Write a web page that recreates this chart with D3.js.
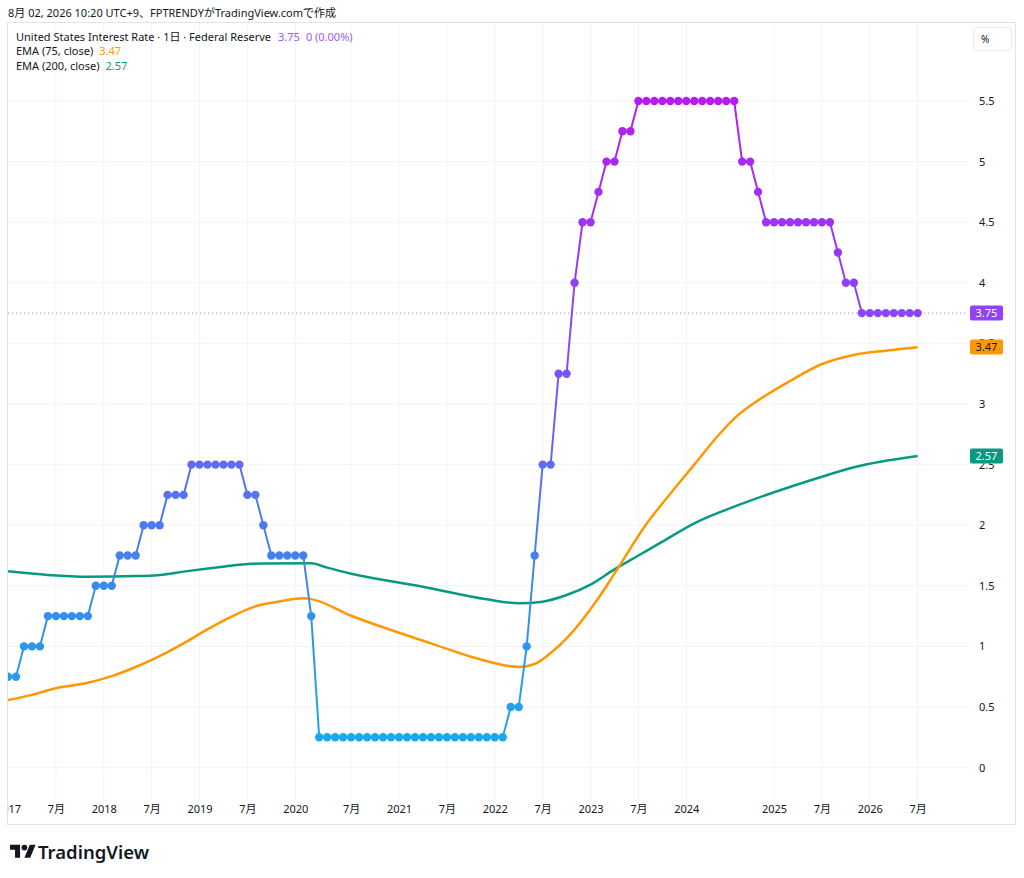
<!DOCTYPE html>
<html>
<head>
<meta charset="utf-8">
<script src="https://cdn.jsdelivr.net/npm/d3@7"></script>
<style>
	body { margin: 0; background: #fff; }
	text { font-family: 'Noto Sans', 'Noto Sans CJK JP', sans-serif; }
</style>
</head>
<body>
<div class="canvas"></div>
<script>
// rate, one value per bar
const rates = [
	0.75, 0.75,
	1, 1, 1,
	1.25, 1.25, 1.25, 1.25, 1.25, 1.25,
	1.5, 1.5, 1.5,
	1.75, 1.75, 1.75,
	2, 2, 2,
	2.25, 2.25, 2.25,
	2.5, 2.5, 2.5, 2.5, 2.5, 2.5, 2.5,
	2.25, 2.25,
	2,
	1.75, 1.75, 1.75, 1.75, 1.75,
	1.25,
	0.25, 0.25, 0.25, 0.25, 0.25, 0.25, 0.25, 0.25, 0.25, 0.25, 0.25, 0.25,
	0.25, 0.25, 0.25, 0.25, 0.25, 0.25, 0.25, 0.25, 0.25, 0.25, 0.25, 0.25,
	0.5, 0.5,
	1,
	1.75,
	2.5, 2.5,
	3.25, 3.25,
	4,
	4.5, 4.5,
	4.75,
	5, 5,
	5.25, 5.25,
	5.5, 5.5, 5.5, 5.5, 5.5, 5.5, 5.5, 5.5, 5.5, 5.5, 5.5, 5.5, 5.5,
	5, 5,
	4.75,
	4.5, 4.5, 4.5, 4.5, 4.5, 4.5, 4.5, 4.5, 4.5,
	4.25,
	4, 4,
	3.75, 3.75, 3.75, 3.75, 3.75, 3.75, 3.75, 3.75
];

// EMA readings (bar index, value)
const ema75Bars = [0, 3, 6, 10, 13, 16, 19, 22, 25, 28, 31, 34, 37, 38, 43, 48, 53, 58, 62, 64, 66, 68, 70, 74, 76, 80, 83, 86, 89, 91, 94, 98, 102, 106, 110, 114];
const ema75 = [0.557, 0.6, 0.655, 0.7, 0.755, 0.83, 0.92, 1.025, 1.14, 1.245, 1.33, 1.37, 1.397, 1.39, 1.253, 1.135, 1.025, 0.915, 0.847, 0.83, 0.855, 0.945, 1.067, 1.4, 1.6, 2.01, 2.26, 2.5, 2.74, 2.88, 3.03, 3.19, 3.33, 3.405, 3.44, 3.468];
const ema200Bars = [0, 5, 10, 16, 19, 22, 26, 29, 32, 38, 40, 43, 52, 60, 64, 67, 70, 73, 76, 79, 82, 86, 91, 95, 102, 106, 114];
const ema200 = [1.62, 1.59, 1.575, 1.58, 1.59, 1.617, 1.65, 1.674, 1.685, 1.686, 1.65, 1.6, 1.493, 1.389, 1.355, 1.369, 1.424, 1.51, 1.636, 1.75, 1.864, 2.016, 2.153, 2.249, 2.4, 2.478, 2.571];

const timeTickBars = [0, 6, 12, 18, 24, 30, 36, 43, 49, 55, 61, 67, 73, 79, 85, 96, 102, 108, 114];
const timeTickLabels = ['2017', '7月', '2018', '7月', '2019', '7月', '2020', '7月', '2021', '7月', '2022', '7月', '2023', '7月', '2024', '2025', '7月', '2026', '7月'];
const priceTicks = [0, 0.5, 1, 1.5, 2, 2.5, 3, 3.5, 4, 4.5, 5, 5.5];

const lastRate = 3.75, lastEma75 = 3.47, lastEma200 = 2.57;

const width = 1024, height = 878;
const pane = { left: 8, right: 968, top: 23, bottom: 800 };
const textColor = '#131722';
const gridColor = '#f0f3fa';
const orange = '#ff9800', teal = '#089981', purple = '#8e44f2';

const svg = d3.select('.canvas')
	.append('svg')
	.attr('width', width)
	.attr('height', height);

const x = d3.scaleLinear()
	.domain([0, 114])
	.range([8, 917.7]);

const y = d3.scaleLinear()
	.domain([0, 5.5])
	.range([767.6, 101]);

// header
svg.append('text')
	.attr('x', 8)
	.attr('y', 17)
	.attr('font-size', 11)
	.attr('fill', textColor)
	.text('8月 02, 2026 10:20 UTC+9、FPTRENDYがTradingView.comで作成');

svg.append('rect')
	.attr('x', 7.5)
	.attr('y', 22.5)
	.attr('width', 1008)
	.attr('height', 802)
	.attr('fill', 'none')
	.attr('stroke', '#e0e3eb');

const defs = svg.append('defs');
defs.append('clipPath')
	.attr('id', 'pane')
	.append('rect')
	.attr('x', pane.left)
	.attr('y', pane.top)
	.attr('width', pane.right - pane.left)
	.attr('height', pane.bottom - pane.top);

defs.append('clipPath')
	.attr('id', 'timeaxis')
	.append('rect')
	.attr('x', pane.left)
	.attr('y', pane.bottom)
	.attr('width', pane.right - pane.left)
	.attr('height', 24);

const gradStops = [[0.25, '#1aa8ec'], [1.25, '#3290ec'], [2.5, '#5e6cf0'], [3.75, '#8c45f3'], [5.5, '#b51cf2']];
const grad = defs.append('linearGradient')
	.attr('id', 'rateGrad')
	.attr('gradientUnits', 'userSpaceOnUse')
	.attr('x1', 0).attr('x2', 0)
	.attr('y1', y(0)).attr('y2', y(5.5));
grad.selectAll('stop')
	.data(gradStops)
	.enter()
	.append('stop')
	.attr('offset', d => d[0] / 5.5)
	.attr('stop-color', d => d[1]);

// grid
const grid = svg.append('g');
grid.selectAll('line.h')
	.data(priceTicks)
	.enter()
	.append('line')
	.attr('x1', pane.left)
	.attr('x2', pane.right)
	.attr('y1', d => y(d))
	.attr('y2', d => y(d))
	.attr('stroke', gridColor);
grid.selectAll('line.v')
	.data(timeTickBars.slice(1))
	.enter()
	.append('line')
	.attr('x1', d => x(d))
	.attr('x2', d => x(d))
	.attr('y1', pane.top)
	.attr('y2', pane.bottom)
	.attr('stroke', gridColor);

// price axis
const yAxis = d3.axisRight(y)
	.tickValues(priceTicks)
	.tickSize(0)
	.tickPadding(0)
	.tickFormat(d => String(d));
const yAxisGroup = svg.append('g')
	.attr('transform', 'translate(979,0)')
	.call(yAxis);
yAxisGroup.select('.domain').remove();
yAxisGroup.selectAll('text')
	.attr('font-size', 11)
	.attr('fill', textColor);

// time axis
const xAxis = d3.axisBottom(x)
	.tickValues(timeTickBars)
	.tickSize(0)
	.tickPadding(0)
	.tickFormat((d, i) => timeTickLabels[i]);
const xAxisGroup = svg.append('g')
	.attr('clip-path', 'url(#timeaxis)')
	.append('g')
	.attr('transform', 'translate(0,805)')
	.call(xAxis);
xAxisGroup.select('.domain').remove();
xAxisGroup.selectAll('text')
	.attr('font-size', 11)
	.attr('fill', textColor);

const graph = svg.append('g')
	.attr('clip-path', 'url(#pane)');

// last value dotted line
graph.append('line')
	.attr('x1', pane.left)
	.attr('x2', pane.right)
	.attr('y1', y(lastRate))
	.attr('y2', y(lastRate))
	.attr('stroke', '#a373f5')
	.attr('stroke-dasharray', '1,3');

const emaLine = d3.line()
	.x(d => x(d[0]))
	.y(d => y(d[1]))
	.curve(d3.curveMonotoneX);

graph.append('path')
	.datum(ema200Bars.map((b, i) => [b, ema200[i]]))
	.attr('d', emaLine)
	.attr('fill', 'none')
	.attr('stroke', teal)
	.attr('stroke-width', 2.5);

graph.append('path')
	.datum(ema75Bars.map((b, i) => [b, ema75[i]]))
	.attr('d', emaLine)
	.attr('fill', 'none')
	.attr('stroke', orange)
	.attr('stroke-width', 2.5);

const rateLine = d3.line()
	.x((d, i) => x(i))
	.y(d => y(d));

graph.append('path')
	.datum(rates)
	.attr('d', rateLine)
	.attr('fill', 'none')
	.attr('stroke', 'url(#rateGrad)')
	.attr('stroke-width', 2);

graph.selectAll('circle')
	.data(rates)
	.enter()
	.append('circle')
	.attr('cx', (d, i) => x(i))
	.attr('cy', d => y(d))
	.attr('r', 4.2)
	.attr('fill', 'url(#rateGrad)');

// price labels on the axis
const priceLabels = [
	{ v: lastRate, bg: '#9142f4', fg: '#ffffff' },
	{ v: lastEma75, bg: orange, fg: '#1a1a1a' },
	{ v: lastEma200, bg: teal, fg: '#ffffff' }
];
const pl = svg.selectAll('g.plabel')
	.data(priceLabels)
	.enter()
	.append('g')
	.attr('transform', d => `translate(970,${y(d.v)})`);
pl.append('rect')
	.attr('x', 0)
	.attr('y', -7.5)
	.attr('width', 33)
	.attr('height', 15)
	.attr('rx', 2)
	.attr('fill', d => d.bg);
pl.append('text')
	.attr('x', 16.5)
	.attr('dy', '0.36em')
	.attr('text-anchor', 'middle')
	.attr('font-size', 11)
	.attr('fill', d => d.fg)
	.text(d => d.v.toFixed(2));

// % button
svg.append('rect')
	.attr('x', 973.5)
	.attr('y', 27.5)
	.attr('width', 38)
	.attr('height', 23)
	.attr('rx', 4)
	.attr('fill', '#fff')
	.attr('stroke', '#e8eaf0');
svg.append('text')
	.attr('x', 981)
	.attr('y', 43)
	.attr('font-size', 10)
	.attr('fill', textColor)
	.text('%');

// legend
const legend = svg.append('g')
	.attr('font-size', 11)
	.attr('fill', textColor);
const l1 = legend.append('text').attr('x', 16).attr('y', 40.5);
l1.append('tspan').text('United States Interest Rate · 1日 · Federal Reserve');
l1.append('tspan').attr('dx', 7).attr('fill', '#9b5cf5').text(lastRate.toFixed(2));
l1.append('tspan').attr('dx', 6).attr('fill', '#9b5cf5').text('0 (0.00%)');
const l2 = legend.append('text').attr('x', 16).attr('y', 55);
l2.append('tspan').text('EMA (75, close)');
l2.append('tspan').attr('dx', 6).attr('fill', orange).text(lastEma75.toFixed(2));
const l3 = legend.append('text').attr('x', 16).attr('y', 69.5);
l3.append('tspan').text('EMA (200, close)');
l3.append('tspan').attr('dx', 6).attr('fill', teal).text(lastEma200.toFixed(2));

// brand
const brand = svg.append('g')
	.attr('transform', 'translate(10,844)');
brand.append('path')
	.attr('d', 'M14 22H7V11H0V4h14v18zM28 22h-8l7.5-18h8L28 22z')
	.attr('transform', 'scale(0.72) translate(0,-3)')
	.attr('fill', '#131722');
brand.append('circle')
	.attr('cx', 20 * 0.72)
	.attr('cy', 5 * 0.72)
	.attr('r', 4 * 0.72)
	.attr('fill', '#131722');
svg.append('text')
	.attr('x', 38)
	.attr('y', 859)
	.attr('font-size', 18.5)
	.attr('font-weight', 600)
	.attr('fill', '#131722')
	.text('TradingView');
</script>
</body>
</html>
